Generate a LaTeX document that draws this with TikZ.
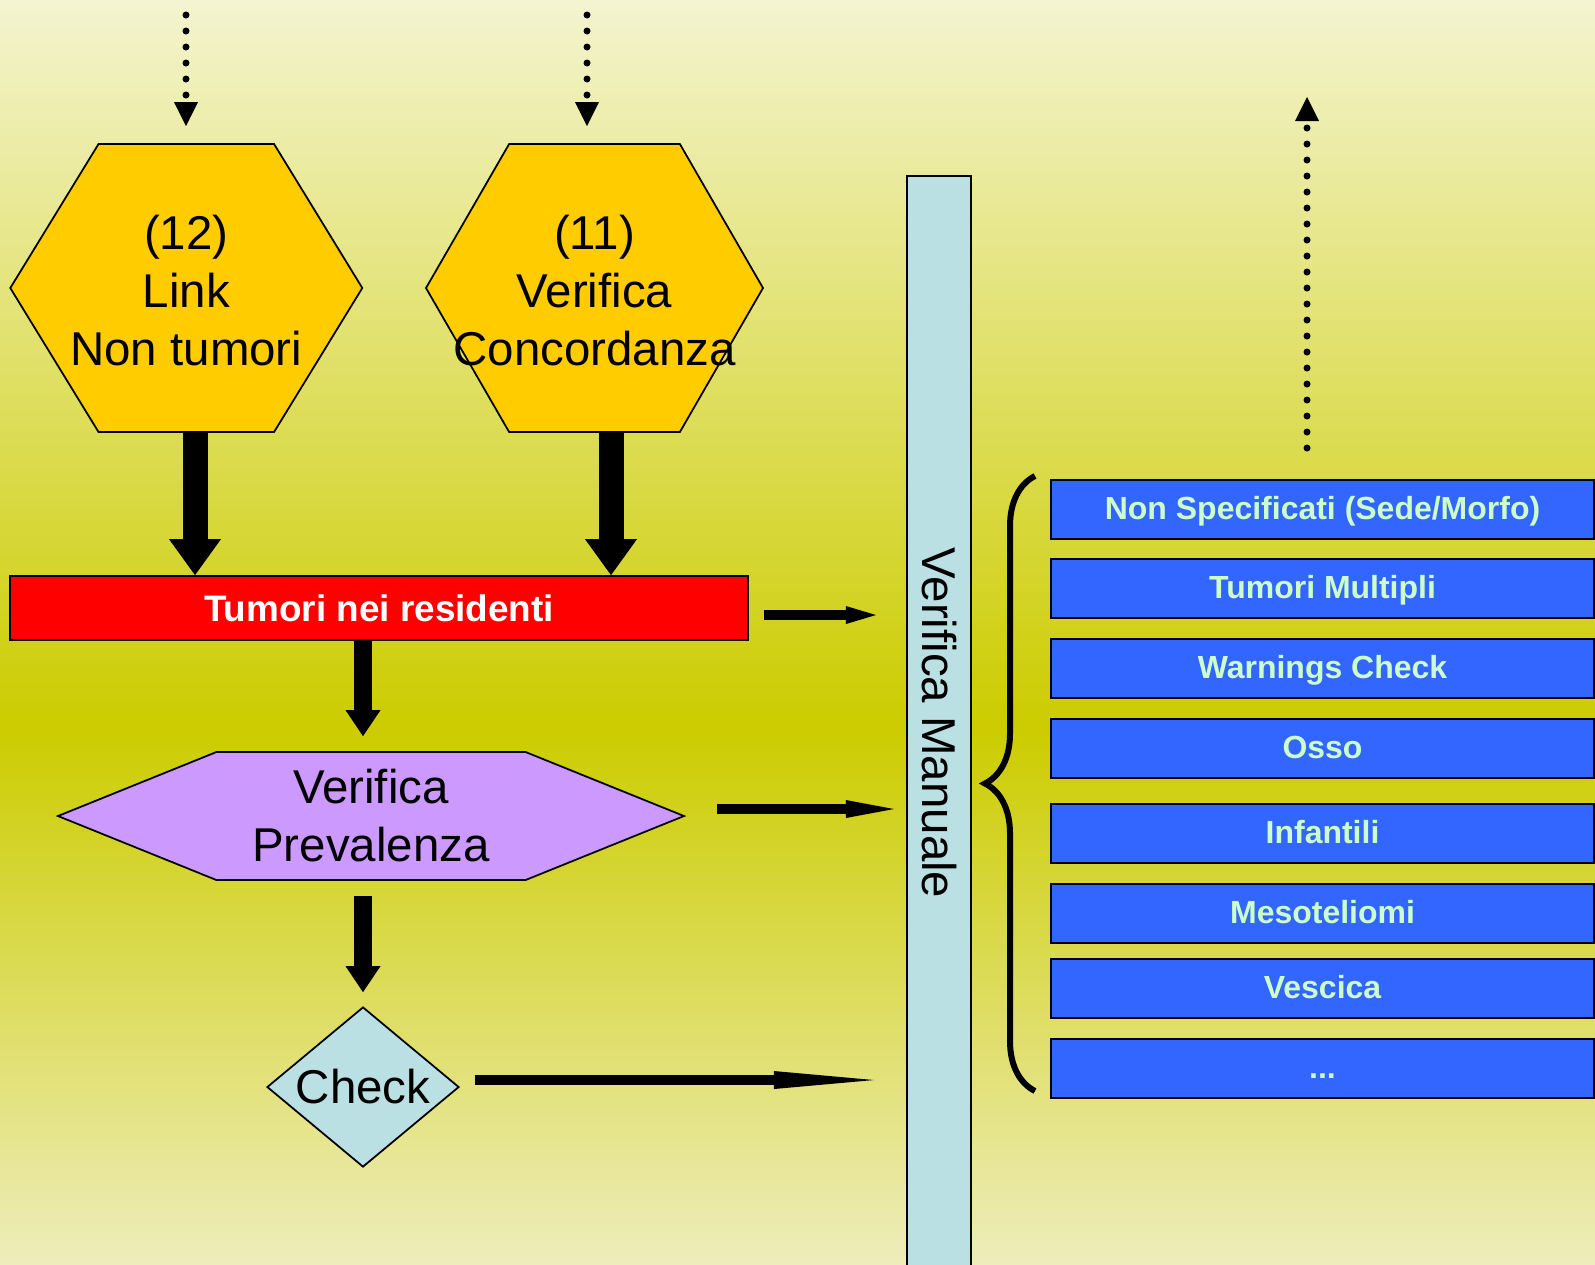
\documentclass[tikz,border=0pt]{standalone}
\usepackage{fontspec}
\setmainfont{Liberation Sans}
\usepackage{graphicx}
\usetikzlibrary{positioning,arrows.meta,shapes.symbols,shapes.geometric,decorations.pathreplacing}

\definecolor{bgtop}{RGB}{244,244,208}
\definecolor{bgmid}{RGB}{204,204,0}
\definecolor{bgbot}{RGB}{238,237,187}
\definecolor{hexyellow}{RGB}{255,204,0}
\definecolor{residred}{RGB}{255,0,0}
\definecolor{prevlilac}{RGB}{204,153,255}
\definecolor{paleblue}{RGB}{187,224,227}
\definecolor{listblue}{RGB}{51,102,255}
\definecolor{listtext}{RGB}{204,255,204}

\begin{document}
\begin{tikzpicture}[x=1mm,y=-1mm,
  bigfont/.style={font=\fontsize{13.5}{16.5}\selectfont},
  hexnode/.style={signal, signal to=east and west, draw, line width=0.5pt,
    fill=hexyellow, inner sep=0pt, minimum height=28.8mm},
  hextext/.style={bigfont, align=center, inner sep=0pt, yshift=-0.25mm},
  listbox/.style={draw, line width=0.6pt, fill=listblue, text=listtext,
    font=\bfseries\fontsize{9.1}{11}\selectfont, minimum width=54.3mm,
    minimum height=5.9mm, inner sep=0pt, outer sep=0pt,
    text height=2.3mm, text depth=0.3mm},
  bigarrow/.style={line width=2.5mm, -{Triangle[width=5.2mm,length=3.6mm,line width=0pt]}},
  midarrow/.style={line width=1.8mm, -{Triangle[width=3.5mm,length=2.6mm,line width=0pt]}},
  sidearrow/.style={line width=1mm},
  dotarrow/.style={line width=0.7mm, line cap=round, dash pattern=on 0pt off 1.6mm,
    -{Triangle[width=2.4mm,length=2.4mm,line width=0pt]}}]

 % background
 \useasboundingbox (0,0) rectangle (159.5,126.4);
 \shade[top color=bgtop, bottom color=bgmid] (0,0) rectangle (159.5,72.8);
 \shade[top color=bgmid, bottom color=bgbot] (0,72.7) rectangle (159.5,126.4);

 \node[hexnode, minimum width=35.2mm, signal pointer angle=117,
   label={[hextext]center:{(12)\\Link\\Non tumori}}] (link) at (18.63,28.8) {};
 \node[hexnode, minimum width=33.7mm, signal pointer angle=120,
   label={[hextext]center:{(11)\\Verifica\\Concordanza}}] (conc) at (59.45,28.8) {};

 \node[draw, line width=0.5pt, fill=residred, text=white,
   font=\bfseries\fontsize{10.5}{12}\selectfont, minimum width=73.8mm,
   minimum height=6.4mm, inner sep=0pt] (resid) at (37.9,60.8) {Tumori nei residenti};

 \node[signal, signal to=east and west, signal pointer angle=44, draw, line width=0.5pt,
   fill=prevlilac, bigfont, align=center, inner sep=0pt, minimum width=62.6mm,
   minimum height=12.8mm] (preval) at (37.1,81.6) {Verifica\\Prevalenza};

 \node[diamond, draw, line width=0.5pt, fill=paleblue, bigfont, inner sep=0pt,
   aspect=1.2, minimum width=19.2mm, minimum height=16mm] (check) at (36.3,108.7) {Check};

 \node[draw, line width=0.6pt, fill=paleblue, bigfont, inner sep=0pt,
   minimum width=6.4mm, minimum height=109.4mm] (manual) at (93.9,72.3)
   {\rotatebox{-90}{Verifica Manuale}};

 \node[listbox, anchor=north west] (b1) at (105.1,48.0) {Non Specificati (Sede/Morfo)};
 \node[listbox, below=2.0mm of b1] (b2) {Tumori Multipli};
 \node[listbox, below=2.1mm of b2] (b3) {Warnings Check};
 \node[listbox, below=2.1mm of b3] (b4) {Osso};
 \node[listbox, below=2.6mm of b4] (b5) {Infantili};
 \node[listbox, below=2.1mm of b5] (b6) {Mesoteliomi};
 \node[listbox, below=1.6mm of b6] (b7) {Vescica};
 \node[listbox, below=2.1mm of b7] (b8) {...};

 \coordinate (from12) at (18.6,1.5);
 \coordinate (from11) at (58.7,1.5);
 \coordinate (outbase) at (130.7,44.8);
 \coordinate (outtip) at (130.7,9.7);
 \coordinate (redout) at ([yshift=-0.7mm]resid.east);
 \coordinate (prevout) at ([yshift=0.7mm]preval.east);
 \coordinate (checkout) at ([yshift=0.7mm]check.east);

 \draw[dotarrow, shorten >=1.7mm] (from12) -- (from12 |- link.north);
 \draw[dotarrow, shorten >=1.7mm] (from11) -- (from11 |- conc.north);
 \draw[dotarrow] (outbase) -- (outtip);

 \draw[bigarrow] (19.5,0 |- link.south) -- (19.5,0 |- resid.north);
 \draw[bigarrow] (61.1,0 |- conc.south) -- (61.1,0 |- resid.north);
 \draw[midarrow, shorten >=1.5mm] (resid.south -| check) -- (preval.north -| check);
 \draw[midarrow, shorten <=1.5mm, shorten >=1.4mm] (preval.south -| check) -- (check.north);

 \draw[sidearrow, -{Triangle[width=1.8mm,length=3mm,line width=0pt]},
   shorten <=1.5mm, shorten >=3mm] (redout) -- (redout -| manual.west);
 \draw[sidearrow, -{Triangle[width=1.8mm,length=4.8mm,line width=0pt]},
   shorten <=3.1mm, shorten >=1.2mm] (prevout) -- (prevout -| manual.west);
 \draw[sidearrow, -{Triangle[width=1.8mm,length=10mm,line width=0pt]},
   shorten <=1.5mm, shorten >=3.2mm] (checkout) -- (checkout -| manual.west);

 \draw[line width=0.6mm, decorate, decoration={brace, amplitude=5mm}]
   ([shift={(-1.6,-0.7)}]b8.south west) -- ([shift={(-1.6,-0.4)}]b1.north west);
\end{tikzpicture}
\end{document}
